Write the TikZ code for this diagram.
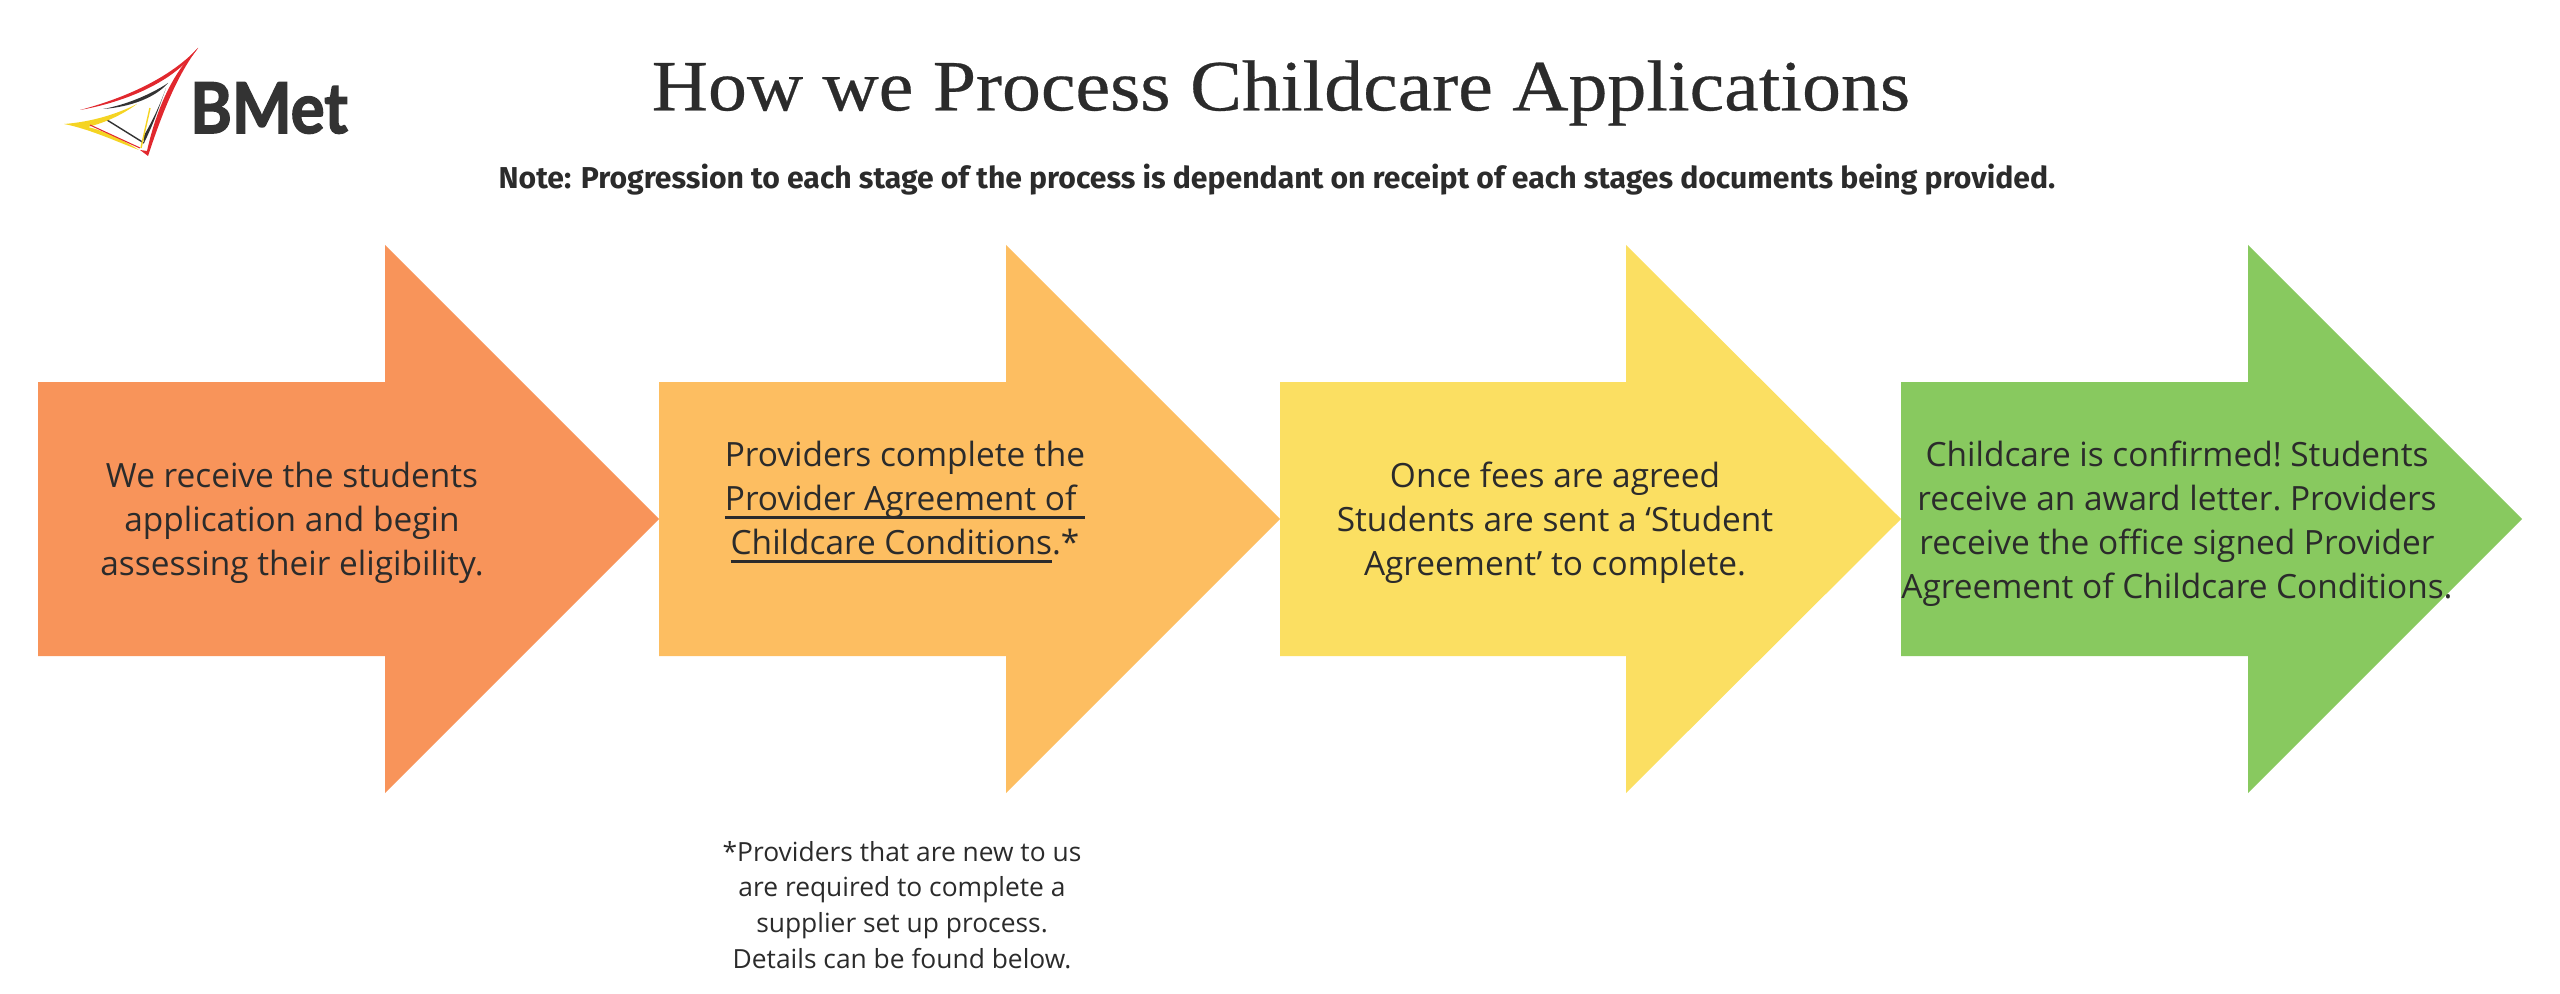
\documentclass[tikz,border=0pt]{standalone}
\usepackage{fontspec}
\setmainfont{Open Sans}
\newfontfamily\titlefont[FakeStretch=1.08,FakeBold=0.4]{Liberation Serif}
\newfontfamily\notefont{Fira Sans}
\newfontfamily\logofont[FakeStretch=0.9,FakeBold=2]{Lato}
\newcommand{\ultext}[1]{\setbox0\hbox{#1}\rlap{\raisebox{-2.4pt}{\rule{\wd0}{0.8pt}}}\box0}
\definecolor{orangearrow}{HTML}{F8945A}
\definecolor{amberarrow}{HTML}{FDBE61}
\definecolor{yellowarrow}{HTML}{FBDF62}
\definecolor{greenarrow}{HTML}{88C95F}
\definecolor{inktext}{HTML}{2B2B2B}
\definecolor{logored}{HTML}{E1282E}
\definecolor{logoyellow}{HTML}{F5D423}
\definecolor{logogrey}{HTML}{333333}
\tikzset{
  steptext/.style={align=center,text=inktext,inner sep=0pt,font=\frenchspacing\fontsize{9.5}{12.5}\selectfont},
  foottext/.style={align=center,text=inktext,inner sep=0pt,font=\frenchspacing\fontsize{7.5}{10.2}\selectfont},
}
\begin{document}
\begin{tikzpicture}[x=0.01cm,y=-0.01cm]
\useasboundingbox (0,0) rectangle (2560,994);
% the four arrows
\fill[orangearrow] (38,382) -- (385,382) -- (385,245) -- (659,519) -- (385,793) -- (385,656) -- (38,656) -- cycle;
\fill[amberarrow] (659,382) -- (1006,382) -- (1006,245) -- (1280,519) -- (1006,793) -- (1006,656) -- (659,656) -- cycle;
\fill[yellowarrow] (1280,382) -- (1626,382) -- (1626,245) -- (1901,519) -- (1626,793) -- (1626,656) -- (1280,656) -- cycle;
\fill[greenarrow] (1901,382) -- (2248,382) -- (2248,245) -- (2522,519) -- (2248,793) -- (2248,656) -- (1901,656) -- cycle;
% heading
\node[text=inktext,inner sep=0pt,font=\titlefont\fontsize{20.5}{24}\selectfont] (title) at (1281,93) {How we Process Childcare Applications};
\node[text=inktext,inner sep=0pt,font=\notefont\bfseries\fontsize{8.58}{10}\selectfont] (note) at (1277,180) {Note: Progression to each stage of the process is dependant on receipt of each stages documents being provided.};
% arrow texts
\node[steptext] (stepA) at (292,523) {We receive the students\\application and begin\\assessing their eligibility.};
\node[steptext] (stepB) at (905,502) {Providers complete the\\\ultext{Provider Agreement of }\\\ultext{Childcare Conditions}.*};
\node[steptext] (stepC) at (1555,523) {Once fees are agreed\\Students are sent a ‘Student\\Agreement’ to complete.};
\node[steptext] (stepD) at (2177,524) {Childcare is confirmed! Students\\receive an award letter. Providers\\receive the office signed Provider\\Agreement of Childcare Conditions.};
\node[foottext] (foot) at (902,905) {*Providers that are new to us\\are required to complete a\\supplier set up process.\\Details can be found below.};
% logo
\fill[logored] (80,110) .. controls (125,98) and (170,78) .. (198,48) .. controls (175,82) and (125,102) .. (80,110) -- cycle;
\fill[logored] (198,48) .. controls (175,78) and (160,120) .. (148,156) -- (140,150) -- (147,151) .. controls (155,115) and (170,75) .. (198,48) -- cycle;
\fill[logogrey] (103,109) .. controls (125,105) and (150,95) .. (168,83) .. controls (155,98) and (130,107) .. (103,109) -- cycle;
\fill[logogrey] (166,88) .. controls (160,105) and (153,125) .. (144,143) -- (143,137) .. controls (152,122) and (160,105) .. (166,88) -- cycle;
\draw[logogrey,line width=0.4pt] (107,120) -- (144,143);
\fill[logoyellow] (64,124) .. controls (90,122) and (115,115) .. (137,104) .. controls (115,120) and (95,125) .. (88,127) .. controls (105,131) and (125,141) .. (139,150) .. controls (120,143) and (90,129) .. (64,124) -- cycle;
\draw[logored,line width=0.3pt] (90,125) -- (140,148);
\draw[logoyellow,line width=0.4pt] (150,108) -- (141,148);
\node[text=logogrey,inner sep=0pt,font=\logofont\bfseries\fontsize{20}{22}\selectfont] (logoname) at (269,108) {BMet};
\end{tikzpicture}
\end{document}
